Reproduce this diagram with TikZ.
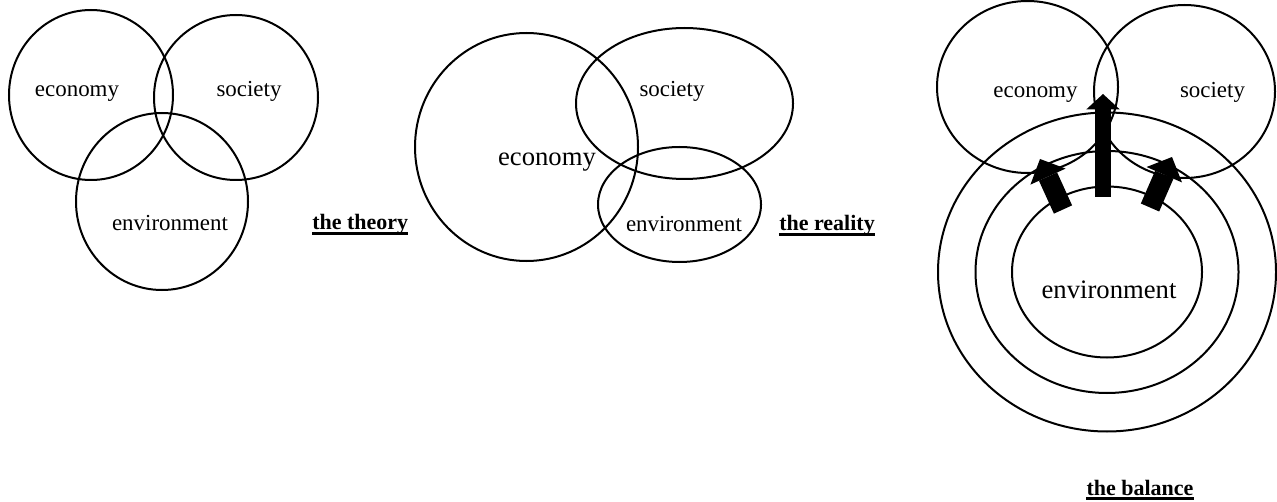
\documentclass[tikz,border=0pt]{standalone}
\usepackage{fontspec}
\setmainfont{Liberation Serif}
\usetikzlibrary{arrows.meta}

\begin{document}
\begin{tikzpicture}[
  % one unit is one pixel of the page, y grows downward
  x=0.75pt,
  y=-0.75pt,
  ring/.style={line width=1.5pt},
  word/.style={anchor=base, inner sep=0pt, font=\fontsize{17.2}{20}\selectfont},
  bigword/.style={word, font=\fontsize{20}{23}\selectfont},
  title/.style={anchor=base, inner sep=0pt, font=\fontsize{16.5}{19}\selectfont\bfseries},
  uline/.style={line width=1.6pt},
  push/.style={line width=15pt, -{Triangle[width=29pt, length=14.5pt, line width=0pt]}}
]
\useasboundingbox (0,0) rectangle (1277,502);

% 1) The theory: three equal circles
\coordinate (thEco) at (91,95);
\coordinate (thSoc) at (236,97.5);
\coordinate (thEnv) at (162,201.5);
\draw[ring] (thEco) ellipse [x radius=82, y radius=85];
\draw[ring] (thSoc) ellipse [x radius=82, y radius=82.5];
\draw[ring] (thEnv) ellipse [x radius=86, y radius=88.5];
\node[word] (thEcoTxt) at (77,97) {economy};
\node[word] (thSocTxt) at (249,97) {society};
\node[word] (thEnvTxt) at (170,231) {environment};
\node[title, anchor=base west] (theory) at (312,230) {the theory\ };
\draw[uline] ([yshift=-2.6pt]theory.base west) -- ([yshift=-2.6pt]theory.base east);

% 2) The reality: economy dominates
\coordinate (reEco) at (526.5,147);
\coordinate (reSoc) at (684.5,103.5);
\coordinate (reEnv) at (679.5,204.5);
\draw[ring] (reEco) ellipse [x radius=111.5, y radius=114];
\draw[ring] (reSoc) ellipse [x radius=108.5, y radius=75.5];
\draw[ring] (reEnv) ellipse [x radius=81.5, y radius=57.5];
\node[bigword] (reEcoTxt) at (547,166) {economy};
\node[word] (reSocTxt) at (672,97) {society};
\node[word] (reEnvTxt) at (684,232) {environment};
\node[title] (reality) at (827,231) {the reality};
\draw[uline] ([yshift=-2.6pt]reality.base west) -- ([yshift=-2.6pt]reality.base east);

% 3) The balance: environment rings carry the other two
\coordinate (baEco) at (1027.5,87);
\coordinate (baSoc) at (1184.5,91.5);
\coordinate (baEnv) at (1107,272);
\draw[ring] (baEco) ellipse [x radius=90.5, y radius=86];
\draw[ring] (baSoc) ellipse [x radius=90.5, y radius=86.5];
\draw[ring] (baEnv) ellipse [x radius=169, y radius=159.5];
\draw[ring] (baEnv) ellipse [x radius=131.5, y radius=121];
\draw[ring] (baEnv) ellipse [x radius=95, y radius=85.5];
\node[word] (baEcoTxt) at (1035.5,98) {economy};
\node[word] (baSocTxt) at (1212.5,98) {society};
\node[bigword] (baEnvTxt) at (1109,298) {environment};
\node[title] (balance) at (1140,495) {the balance};
\draw[uline] ([yshift=-2.6pt]balance.base west) -- ([yshift=-2.6pt]balance.base east);

% block arrows from the inner ring outward
\coordinate (upFrom) at (1103,197);
\coordinate (upTo) at (1103,94);
\coordinate (leftFrom) at (1063,209.5);
\coordinate (leftTo) at (1040,159);
\coordinate (rightFrom) at (1150,207.5);
\coordinate (rightTo) at (1172,157);
\draw[push, line width=12pt, -{Triangle[width=25pt, length=11.5pt, line width=0pt]}] (upFrom) -- (upTo);
\draw[push] (leftFrom) -- (leftTo);
\draw[push] (rightFrom) -- (rightTo);

\end{tikzpicture}
\end{document}
